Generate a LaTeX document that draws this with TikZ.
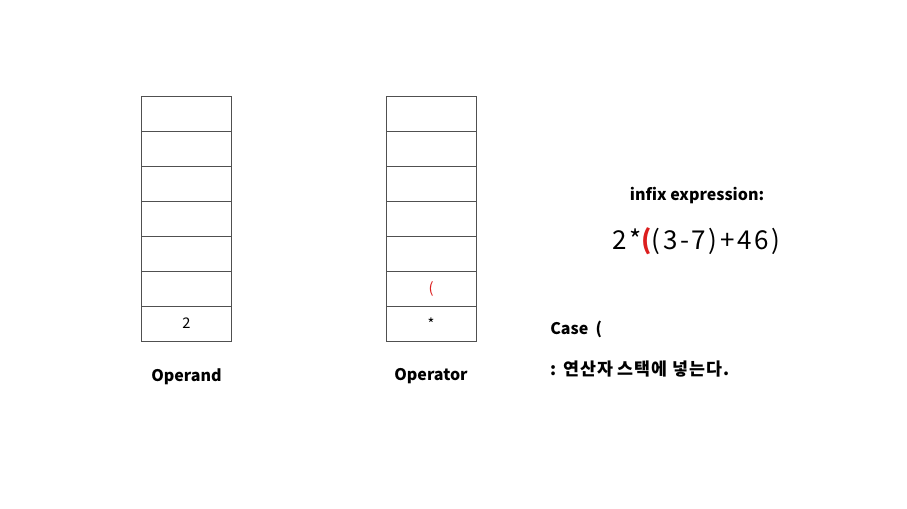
\documentclass[tikz,border=0pt]{standalone}
\usepackage{fontspec}
\setmainfont{Noto Sans CJK KR}
\usepackage{xcolor}
\usetikzlibrary{positioning}
\definecolor{bracketred}{RGB}{220, 30, 30}
\definecolor{linegray}{RGB}{80, 80, 80}

\begin{document}
\begin{tikzpicture}[
    x=0.75pt, y=-0.75pt,
    cell/.style={draw=linegray, minimum width=67.5pt, minimum height=26.2pt,
                 inner sep=0pt, outer sep=0pt, font=\fontsize{11}{13}\selectfont},
    title/.style={font=\fontsize{12}{14}\selectfont\bfseries},
    expr/.style={font=\fontsize{19.5}{22}\selectfont\addfontfeature{LetterSpace=10}},
]
    \useasboundingbox[fill=white] (0,0) rectangle (907,508);

    % operand stack
    \node[cell] (od1) at (186.5,323.5) {2};
    \foreach \i [count=\j from 2] in {1,...,6}
        \node[cell, above=0pt of od\i] (od\j) {};
    \node[title, below=17pt of od1] (odlab) {Operand};

    % operator stack
    \node[cell] (op1) at (431,323.5) {*};
    \node[cell, above=0pt of op1, text=bracketred] (op2) {(};
    \foreach \i [count=\j from 3] in {2,...,6}
        \node[cell, above=0pt of op\i] (op\j) {};
    \node[title, below=17pt of op1] (oplab) {Operator};

    % expression
    \node[title] (infix) at (697,196) {infix expression:};
    \node[expr] (ex) at (696,241) {2*\textcolor{bracketred}{\bfseries(}(3-7)+46)};

    % case
    \node[title, anchor=west, inner sep=0pt] (case) at (550,329) {Case \ (};
    \node[title, anchor=west, inner sep=0pt, font=\fontsize{13}{15}\selectfont\bfseries\addfontfeature{LetterSpace=6}] (rule) at (550,369) {: 연산자 스택에 넣는다.};
\end{tikzpicture}
\end{document}
